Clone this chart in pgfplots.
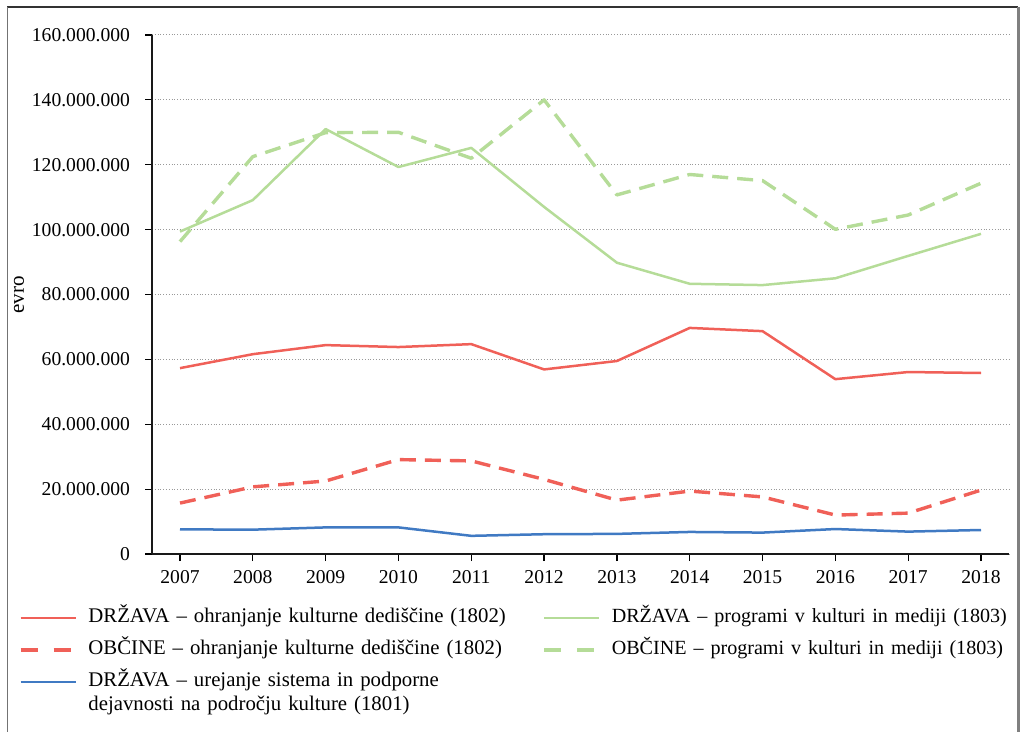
\documentclass[border=0pt]{standalone}
\usepackage{pgfplots}
\pgfplotsset{compat=1.18}
\usepackage{fontspec}
\setmainfont{Liberation Serif}
\definecolor{cred}{RGB}{240,96,88}
\definecolor{cgreen}{RGB}{181,220,152}
\definecolor{cblue}{RGB}{64,122,195}
\pgfplotsset{
  solidleg/.style={legend image code/.code={\draw[##1] (0pt,0pt) -- (27.5pt,0pt);}},
  dashleg/.style={legend image code/.code={\draw[##1, dash pattern=on 8.5pt off 8pt] (0pt,0pt) -- (27.5pt,0pt);}},
}
\begin{document}
\begin{tikzpicture}
\useasboundingbox (0pt,0pt) rectangle (510.5pt,-366pt);
\begin{scope}[x=0.5pt,y=-0.5pt]
\draw[black!80, line width=0.6pt] (7,7) -- (1018,7);
\draw[black!55, line width=0.8pt] (7.5,7) -- (7.5,740);
\draw[black!50, line width=1.4pt] (1018.5,7) -- (1018.5,740);
\node[rotate=90, font=\fontsize{10.5}{12}\selectfont, inner sep=0pt] at (19,295) {evro};
\end{scope}
\begin{axis}[
  at={(76pt,-277pt)}, anchor=south west,
  scale only axis, width=428.5pt, height=259.5pt,
  xmin=2006.6155, xmax=2018.3845, ymin=0, ymax=160000000,
  axis lines*=left,
  axis line style={line width=1.3pt, black!90},
  tick align=outside, major tick length=3.5pt,
  tick style={line width=0.6pt, black},
  xtick={2007,2008,...,2018},
  ytick={0,20000000,40000000,60000000,80000000,100000000,120000000,140000000,160000000},
  scaled y ticks=false,
  /pgf/number format/assume math mode=true,
  yticklabel style={/pgf/number format/.cd, fixed, precision=0, 1000 sep={.}, /tikz/.cd, xshift=-4pt},
  xticklabel style={/pgf/number format/.cd, fixed, precision=0, 1000 sep={}, /tikz/.cd, yshift=-1pt},
  ticklabel style={font=\fontsize{9.8}{12}\selectfont},
  ymajorgrids, major grid style={densely dotted, black!40, line width=0.5pt},
  legend columns=2,
  legend cell align=left,
  legend style={at={(-0.1552,-0.1039),}, anchor=north west, draw=none, fill=none,
    inner sep=0pt, outer sep=0pt, column sep=5.5pt, row sep=6pt,
    font=\fontsize{10.4}{12}\selectfont,
    nodes={inner sep=0pt, text width=221.5pt, align=left, text height=7.5pt, text depth=2.5pt}},
  solidleg,
  every axis plot/.append style={line join=round},
]
\addplot[cred, line width=1.25pt] coordinates {
(2007,57300000) (2008,61600000) (2009,64400000) (2010,63800000) (2011,64700000) (2012,56900000)
(2013,59500000) (2014,69700000) (2015,68700000) (2016,53900000) (2017,56100000) (2018,55800000)};
\addlegendentry{DRŽAVA – ohranjanje kulturne dediščine (1802)}
\addplot[cgreen, line width=1.25pt] coordinates {
(2007,99400000) (2008,109100000) (2009,131000000) (2010,119300000) (2011,125200000) (2012,107000000)
(2013,89800000) (2014,83300000) (2015,82900000) (2016,85000000) (2017,91900000) (2018,98700000)};
\addlegendentry{\fontsize{10.05}{12}\selectfont DRŽAVA – programi v kulturi in mediji (1803)}
\addplot[cred, line width=1.7pt, dash pattern=on 8pt off 4.5pt, dashleg] coordinates {
(2007,15700000) (2008,20700000) (2009,22500000) (2010,29100000) (2011,28700000) (2012,23000000)
(2013,16600000) (2014,19400000) (2015,17600000) (2016,12000000) (2017,12600000) (2018,19700000)};
\addlegendentry{OBČINE – ohranjanje kulturne dediščine (1802)}
\addplot[cgreen, line width=1.7pt, dash pattern=on 8pt off 4.5pt, dashleg] coordinates {
(2007,96300000) (2008,122500000) (2009,129900000) (2010,130000000) (2011,122000000) (2012,140000000)
(2013,110700000) (2014,117000000) (2015,115100000) (2016,100100000) (2017,104500000) (2018,114300000)};
\addlegendentry{\fontsize{10.05}{12}\selectfont OBČINE – programi v kulturi in mediji (1803)}
\addplot[cblue, line width=1.25pt] coordinates {
(2007,7600000) (2008,7500000) (2009,8200000) (2010,8200000) (2011,5600000) (2012,6100000)
(2013,6200000) (2014,6800000) (2015,6600000) (2016,7700000) (2017,6900000) (2018,7400000)};
\addlegendentry{DRŽAVA – urejanje sistema in podporne\\dejavnosti na področju kulture (1801)}
\end{axis}
\end{tikzpicture}
\end{document}
